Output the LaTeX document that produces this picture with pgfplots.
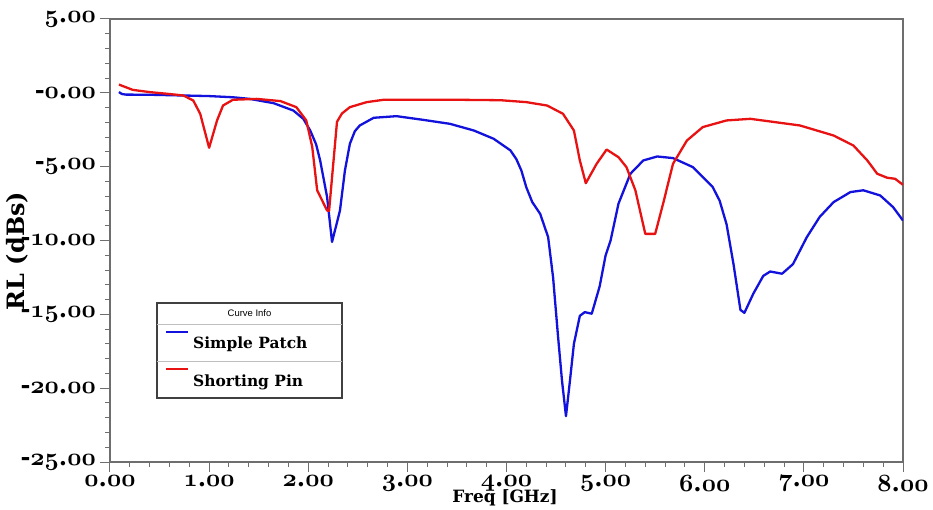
\documentclass[border=0pt]{standalone}
\usepackage{fontspec}
\setmainfont{DejaVu Serif}
\newfontfamily\legsans{Liberation Sans}
\usepackage{pgfplots}
\pgfplotsset{compat=1.18}

% old-style bold digits for the tick labels
\newcommand\osn[1]{{\fontencoding{OML}\fontfamily{cmm}\fontseries{b}\fontshape{it}\selectfont #1}}
\newcommand\tk[2]{\osn{#1}.\osn{#2}}

\definecolor{rlblue}{RGB}{18,18,220}
\definecolor{rlred}{RGB}{232,18,18}
\definecolor{axgray}{RGB}{110,110,110}

\begin{document}
\begin{tikzpicture}
\useasboundingbox (-110bp,-48bp) rectangle (823bp,462bp);
\begin{axis}[
    at={(0,0)}, anchor=south west,
    scale only axis,
    width=793bp, height=443bp,
    xmin=0, xmax=8, ymin=-25, ymax=5,
    xtick={0,1,...,8},
    ytick={-25,-20,...,5},
    minor x tick num=4,
    minor y tick num=4,
    xticklabels={\tk{0}{00},\tk{1}{00},\tk{2}{00},\tk{3}{00},\tk{4}{00},\tk{5}{00},\tk{6}{00},\tk{7}{00},\tk{8}{00}},
    yticklabels={-\tk{25}{00},-\tk{20}{00},-\tk{15}{00},-\tk{10}{00},-\tk{5}{00},-\tk{0}{00},\tk{5}{00}},
    tick align=outside,
    xtick pos=bottom, ytick pos=left,
    axis line style={draw=axgray, line width=1.3bp},
    tick style={draw=axgray, line width=1bp},
    major tick length=10bp, minor tick length=5bp,
    ticklabel style={font=\fontsize{24}{24}\selectfont\bfseries},
    xticklabel style={inner sep=3bp},
    yticklabel style={inner sep=4bp},
    every axis plot/.append style={line width=2.3bp, line join=round},
]

% Simple Patch
\addplot[rlblue] coordinates {
(0.09,0.05) (0.12,-0.08) (0.16,-0.12) (0.40,-0.13) (0.74,-0.18) (1.00,-0.22)
(1.24,-0.30) (1.41,-0.41) (1.65,-0.70) (1.85,-1.20) (1.95,-1.76) (2.02,-2.55)
(2.08,-3.50) (2.12,-4.58) (2.19,-7.05) (2.24,-10.1) (2.32,-7.97) (2.37,-5.26)
(2.42,-3.45) (2.47,-2.60) (2.52,-2.21) (2.66,-1.69) (2.89,-1.58) (3.16,-1.83)
(3.43,-2.10) (3.67,-2.55) (3.87,-3.11) (4.04,-3.90) (4.10,-4.50) (4.15,-5.26)
(4.20,-6.40) (4.26,-7.40) (4.34,-8.20) (4.42,-9.77) (4.47,-12.5) (4.52,-16.5)
(4.56,-19.5) (4.60,-21.9) (4.64,-19.5) (4.68,-17.0) (4.74,-15.1) (4.79,-14.85)
(4.86,-14.96) (4.94,-13.1) (5.00,-11.0) (5.05,-10.0) (5.13,-7.50) (5.25,-5.48)
(5.38,-4.58) (5.52,-4.31) (5.68,-4.42) (5.88,-5.03) (6.08,-6.38) (6.15,-7.30)
(6.22,-8.90) (6.29,-11.6) (6.36,-14.7) (6.40,-14.9) (6.49,-13.6) (6.59,-12.4)
(6.66,-12.1) (6.78,-12.25) (6.89,-11.6) (7.03,-9.77) (7.16,-8.40) (7.30,-7.40)
(7.47,-6.72) (7.60,-6.60) (7.77,-6.95) (7.90,-7.74) (8.00,-8.65)
};

% Shorting Pin
\addplot[rlred] coordinates {
(0.09,0.56) (0.23,0.20) (0.40,0.05) (0.60,-0.08) (0.74,-0.18) (0.84,-0.52)
(0.91,-1.42) (1.00,-3.72) (1.08,-1.87) (1.14,-0.86) (1.24,-0.47) (1.48,-0.41)
(1.72,-0.56) (1.88,-0.97) (1.98,-1.87) (2.04,-3.65) (2.09,-6.60) (2.19,-7.97)
(2.21,-8.00) (2.29,-1.96) (2.34,-1.40) (2.42,-0.97) (2.59,-0.63) (2.76,-0.47)
(3.50,-0.47) (3.94,-0.50) (4.20,-0.63) (4.41,-0.86) (4.57,-1.42) (4.68,-2.55)
(4.74,-4.58) (4.80,-6.12) (4.91,-4.80) (5.01,-3.84) (5.13,-4.36) (5.21,-5.03)
(5.30,-6.60) (5.40,-9.55) (5.50,-9.55) (5.58,-7.50) (5.68,-4.80) (5.82,-3.23)
(5.98,-2.32) (6.22,-1.87) (6.46,-1.76) (6.96,-2.21) (7.30,-2.89) (7.50,-3.57)
(7.64,-4.58) (7.74,-5.48) (7.84,-5.75) (7.92,-5.82) (8.00,-6.23)
};
\end{axis}

% axis titles
\node[rotate=90, font=\bfseries\fontsize{24}{24}\selectfont] at (-93bp,211bp) {RL (dBs)};
\node[font=\bfseries\fontsize{17}{17}\selectfont] at (395bp,-36bp) {Freq [GHz]};

% Curve Info box
\draw[black!75, line width=1.2bp, fill=white] (47bp,64bp) rectangle (232bp,159bp);
\draw[black!25, line width=0.8bp] (47bp,138bp) -- (232bp,138bp) (47bp,101bp) -- (232bp,101bp);
\node[font=\legsans\fontsize{9.5}{10}\selectfont] at (139.5bp,149bp) {Curve Info};
\draw[rlblue, line width=1.6bp] (56bp,130bp) -- (78bp,130bp);
\node[anchor=west, inner sep=0pt, font=\bfseries\fontsize{15.5}{16}\selectfont] at (83bp,118bp) {Simple Patch};
\draw[rlred, line width=1.6bp] (56bp,93bp) -- (78bp,93bp);
\node[anchor=west, inner sep=0pt, font=\bfseries\fontsize{15.5}{16}\selectfont] at (83bp,80bp) {Shorting Pin};
\end{tikzpicture}
\end{document}
